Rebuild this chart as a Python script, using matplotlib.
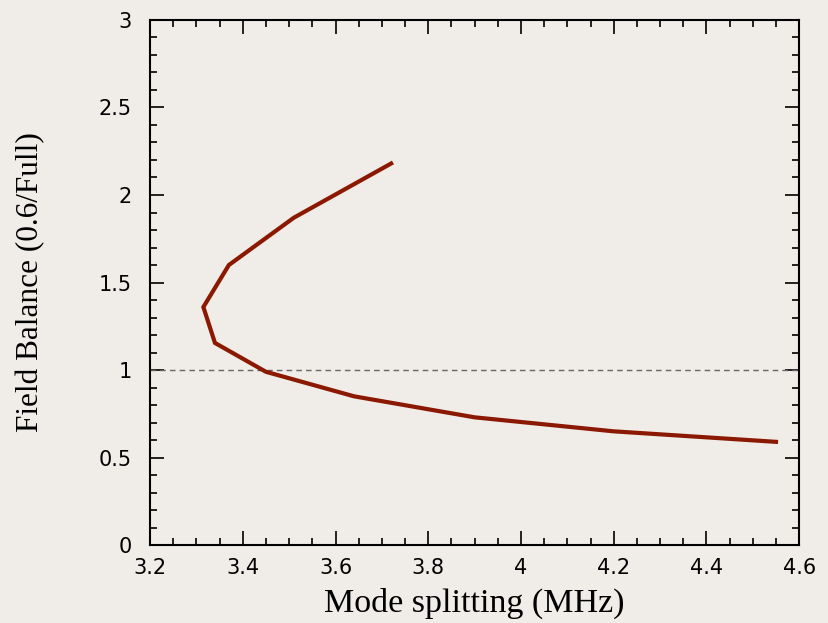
import numpy as np
import matplotlib.pyplot as plt
import matplotlib.ticker as ticker

# mode splitting vs field balance
splitting = [3.72, 3.51, 3.37, 3.315, 3.34, 3.45, 3.64, 3.90, 4.20, 4.55]
balance = [2.18, 1.87, 1.60, 1.36, 1.155, 0.99, 0.85, 0.73, 0.65, 0.59]
target = 1.0

bg = '#f0ece8'
fig = plt.figure(figsize=(8.29, 6.23), dpi=100, facecolor=bg)
ax = fig.add_axes([0.181, 0.125, 0.783, 0.843])
ax.set_facecolor(bg)

ax.axhline(target, color='#666666', lw=1, ls=(0, (4, 3)))
ax.plot(splitting, balance, color='#8b1800', lw=3, solid_joinstyle='miter')

ax.set_xlim(3.2, 4.6)
ax.set_ylim(0, 3)
ax.xaxis.set_major_locator(ticker.MultipleLocator(0.2))
ax.xaxis.set_minor_locator(ticker.MultipleLocator(0.05))
ax.yaxis.set_major_locator(ticker.MultipleLocator(0.5))
ax.yaxis.set_minor_locator(ticker.MultipleLocator(0.1))
ax.xaxis.set_major_formatter(ticker.FuncFormatter(lambda v, p: f'{v:g}'))
ax.yaxis.set_major_formatter(ticker.FuncFormatter(lambda v, p: f'{v:g}'))

ax.tick_params(which='both', direction='in', top=True, right=True,
               colors='black', labelsize=15)
ax.tick_params(which='major', length=10, width=1.2)
ax.tick_params(which='minor', length=5, width=1.2)
ax.tick_params(axis='x', which='major', pad=9)
ax.tick_params(axis='y', which='major', pad=13)
for s in ax.spines.values():
    s.set_linewidth(1.5)

ax.set_xlabel('Mode splitting (MHz)', family='Liberation Serif', size=24.5,
              color='black')
ax.set_ylabel('Field Balance (0.6/Full)', family='Liberation Serif',
              size=22.5, color='black')
ax.xaxis.set_label_coords(0.5, -0.082)
ax.yaxis.set_label_coords(-0.162, 0.5)

fig.savefig('out.png', dpi=100, facecolor=bg)
